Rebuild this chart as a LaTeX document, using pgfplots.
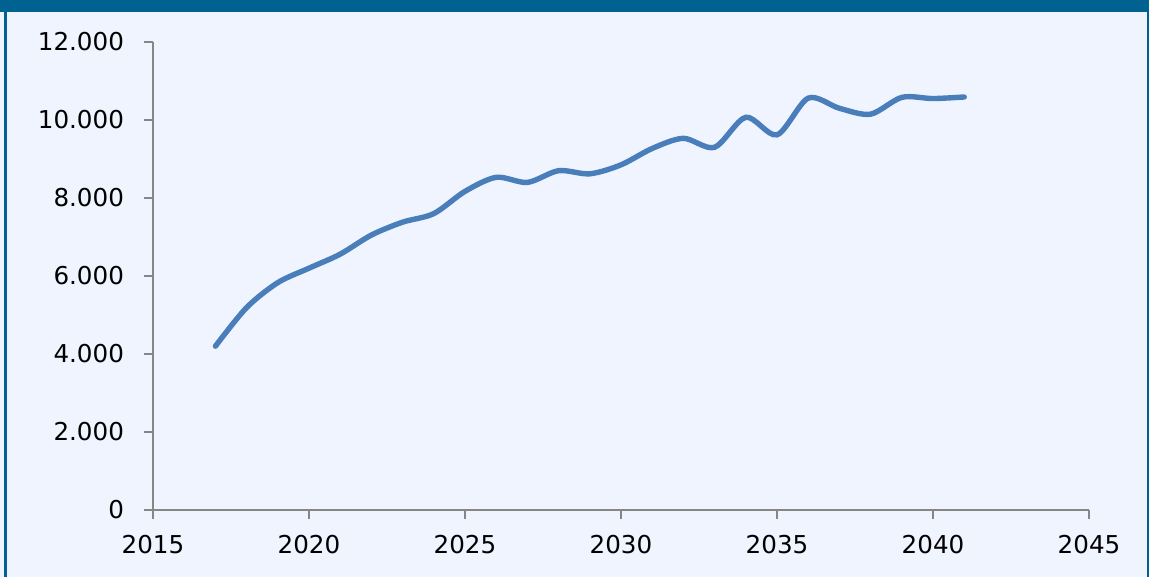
\documentclass[border=0pt]{standalone}
\usepackage{pgfplots}
\pgfplotsset{compat=1.18}
\usepackage{fontspec}
\setmainfont{DejaVu Sans}
\definecolor{bg}{RGB}{239,244,254}
\definecolor{framec}{RGB}{0,98,145}
\definecolor{linec}{RGB}{74,126,187}
\definecolor{axgray}{RGB}{134,134,134}
\begin{document}
\begin{tikzpicture}
\fill[bg] (0pt,0pt) rectangle (574.5pt,288.5pt);
\fill[framec] (0pt,282.5pt) rectangle (574.5pt,288.5pt);
\fill[framec] (2pt,0pt) rectangle (3.6pt,288.5pt);
\fill[framec] (573.5pt,0pt) rectangle (574.5pt,288.5pt);
\begin{axis}[
  at={(76.5pt,33.5pt)}, anchor=south west,
  scale only axis, width=468pt, height=234pt,
  xmin=2015, xmax=2045, ymin=0, ymax=12000,
  xtick={2015,2020,...,2045}, ytick={0,2000,...,12000},
  axis x line=bottom, axis y line=left,
  axis line style={draw=axgray, line width=0.8pt, -},
  tick style={draw=axgray, line width=0.8pt},
  major tick length=4.5pt, tick align=outside,
  /pgf/number format/assume math mode=true,
  ticklabel style={font=\fontsize{12.3}{14}\selectfont, text=black},
  yticklabel style={xshift=-6.5pt, /pgf/number format/.cd, fixed, 1000 sep={.}},
  xticklabel style={yshift=-4.5pt, /pgf/number format/.cd, 1000 sep={}},
  scaled y ticks=false,
  clip=false,
]
\addplot[linec, line width=2.7pt, smooth, tension=0.5, line cap=round] coordinates {
(2017,4200) (2018,5190) (2019,5830) (2020,6200) (2021,6560) (2022,7050)
(2023,7380) (2024,7600) (2025,8170) (2026,8530) (2027,8400) (2028,8700)
(2029,8620) (2030,8850) (2031,9270) (2032,9530) (2033,9300) (2034,10070)
(2035,9620) (2036,10560) (2037,10300) (2038,10150) (2039,10580) (2040,10550)
(2041,10590)
};
\end{axis}
\end{tikzpicture}
\end{document}
